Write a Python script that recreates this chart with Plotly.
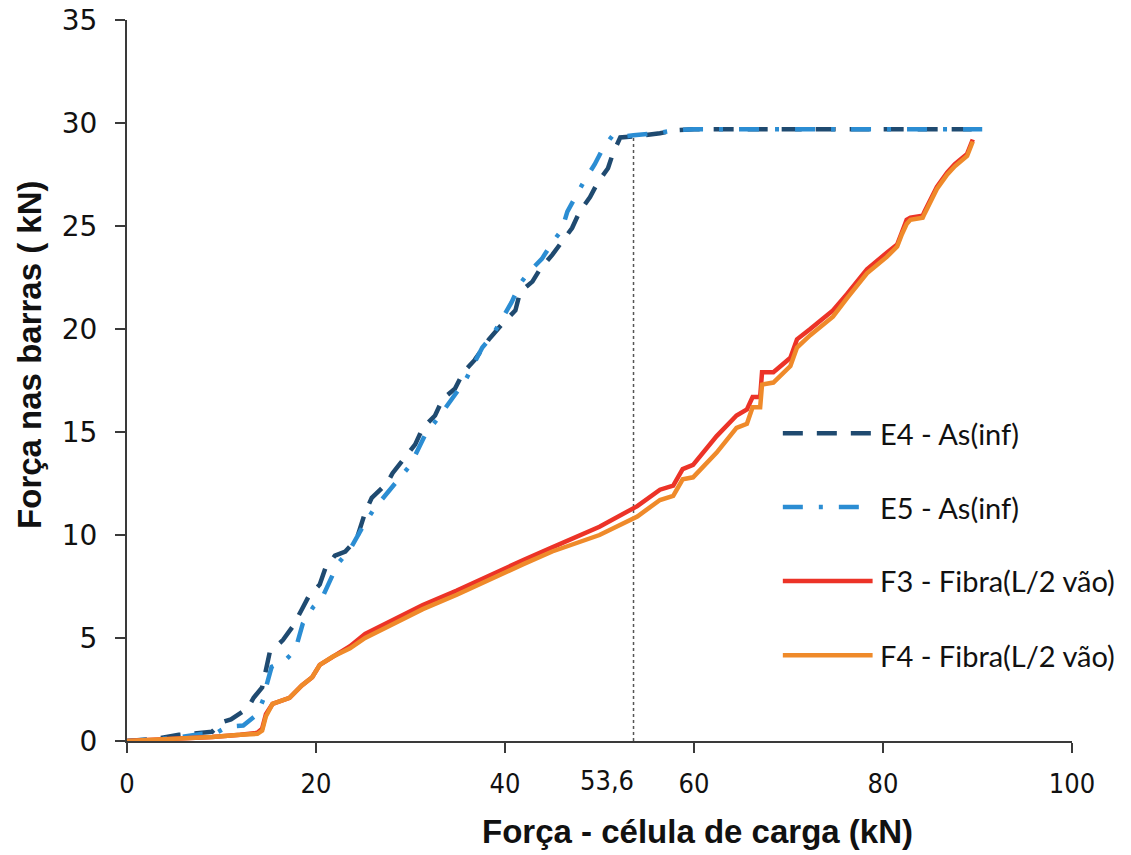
import plotly.graph_objects as go

# ---------------- data ----------------
e4_x = [0, 3, 5.5, 7.7, 9, 10, 11, 12.8, 13.4, 14.3, 14.8, 15.1, 16.5, 17.6, 18.4, 19.2, 20.4,
        21, 22, 23.1, 24.3, 25.2, 25.9, 27.5, 28.1, 29.4, 30.5, 31.3, 32.6, 33.4, 34.7, 35.6,
        36.8, 38.3, 39.8, 41.1, 41.6, 42.9, 43.7, 45, 46, 47.1, 47.9, 49, 49.8, 50.9, 51.4,
        52.2, 53.6, 56.4, 58, 60, 70, 80, 90.5]
e4_y = [0, 0.1, 0.3, 0.4, 0.45, 0.9, 1.05, 1.6, 2.1, 2.6, 3.6, 4.3, 4.9, 5.6, 6.3, 7.0, 7.6,
        8.4, 9.0, 9.2, 9.8, 11.1, 11.8, 12.5, 13.0, 13.8, 14.4, 15.2, 15.8, 16.6, 17.1, 17.9,
        18.5, 19.5, 20.3, 20.9, 21.8, 22.3, 22.9, 23.6, 24.2, 24.9, 25.7, 26.4, 27.1, 27.8, 28.5,
        29.3, 29.35, 29.5, 29.65, 29.7, 29.7, 29.7, 29.7]

e5_x = [0, 5, 8, 9.5, 10.6, 12.3, 13.8, 14.4, 14.7, 15.3, 16.7, 17.8, 18.6, 19.7, 20.6, 22.3,
        23.6, 25.2, 26.2, 28.9, 30, 31.7, 32.8, 35, 35.8, 37.6, 38.7, 40.7, 41.6, 42.6, 43.9,
        45, 46, 46.6, 47.4, 48.4, 49.5, 50.4, 51.4, 52.5, 53.6, 56, 58, 60, 70, 80, 90.5]
e5_y = [0, 0.15, 0.35, 0.4, 0.7, 0.75, 1.3, 2.0, 2.6, 3.6, 3.9, 4.4, 5.7, 6.5, 6.9, 8.6,
        9.3, 10.6, 11.3, 12.8, 13.4, 15.0, 15.6, 17.0, 17.5, 19.1, 19.7, 21.3, 22.2, 22.8, 23.4,
        24.2, 24.8, 25.7, 26.4, 27.2, 28.0, 28.8, 29.4, 29.35, 29.4, 29.5, 29.65, 29.7, 29.7, 29.7, 29.7]

f_x = [0, 5, 9, 12, 13.8, 14.3, 14.7, 15.4, 17.2, 18.5, 19.6, 20.4, 21.8, 23.6, 25.2, 27.8,
       31.3, 34.9, 37.7, 39.5, 42, 45, 48, 50, 54, 56.4, 57.8, 58.8, 59.9, 62.4, 64.5, 65.6,
       66.2, 67, 67.2, 68.4, 70.2, 70.9, 72.3, 74.7, 76.2, 78.3, 80.4, 81.5, 82, 82.5, 82.9,
       84.2, 84.4, 85, 85.7, 86.8, 87.6, 88.9, 89.5]
f3_y = [0, 0.1, 0.2, 0.3, 0.4, 0.6, 1.3, 1.8, 2.1, 2.7, 3.1, 3.7, 4.1, 4.6, 5.2, 5.8,
        6.6, 7.3, 7.9, 8.3, 8.8, 9.4, 10.0, 10.4, 11.4, 12.2, 12.4, 13.2, 13.4, 14.8, 15.8, 16.1,
        16.7, 16.7, 17.9, 17.9, 18.6, 19.5, 20.0, 20.9, 21.7, 22.9, 23.7, 24.1, 24.7, 25.3, 25.4,
        25.5, 25.7, 26.3, 26.9, 27.6, 28.0, 28.5, 29.2]
f4_y = [0, 0.1, 0.2, 0.3, 0.35, 0.5, 1.2, 1.8, 2.1, 2.7, 3.1, 3.7, 4.1, 4.5, 5.0, 5.6,
        6.4, 7.1, 7.7, 8.1, 8.6, 9.2, 9.7, 10.0, 10.9, 11.7, 11.9, 12.7, 12.8, 14.0, 15.2, 15.4,
        16.2, 16.2, 17.3, 17.4, 18.2, 19.1, 19.7, 20.6, 21.5, 22.7, 23.5, 24.0, 24.6, 25.1, 25.3,
        25.4, 25.6, 26.2, 26.8, 27.5, 27.9, 28.4, 29.1]

series_names = ["E4 - As(inf)", "E5 - As(inf)", "F3 - Fibra(L/2 vão)", "F4 - Fibra(L/2 vão)"]
x_ticks = [0, 20, 40, 60, 80, 100]
y_ticks = [0, 5, 10, 15, 20, 25, 30, 35]
x_mark = 53.6
x_mark_label = "53,6"
x_mark_top = 29.35
x_title = "Força - célula de carga (kN)"
y_title = "Força nas barras ( kN)"

# ---------------- styles ----------------
colors = ["#1F4A70", "#2B8DD3", "#EC3327", "#EF8A2A"]
dashes = ["20px,14px", "20px,16px,4px,16px", "solid", "solid"]
LW = 4.5
AXC = "#3a3a3a"
TXT = "#111111"
NARROW = "DejaVu Sans Condensed, Liberation Sans Narrow, sans-serif"

fig = go.Figure()
fig.add_shape(type="line", xref="x", yref="y", x0=x_mark, x1=x_mark, y0=0, y1=x_mark_top,
              line=dict(color="#555555", width=1.5, dash="dot"), layer="below")

data = [(e4_x, e4_y), (e5_x, e5_y), (f_x, f3_y), (f_x, f4_y)]
for (xs, ys), name, c, d in zip(data, series_names, colors, dashes):
    fig.add_trace(go.Scatter(x=xs, y=ys, mode="lines", name=name,
                             line=dict(color=c, width=LW, dash=d), showlegend=False))

# manual legend (to match long line samples)
leg_y = [0.427, 0.3245, 0.222, 0.119]
for name, c, d, yy in zip(series_names, colors, dashes, leg_y):
    fig.add_shape(type="line", xref="paper", yref="paper", x0=0.694, x1=0.789, y0=yy, y1=yy,
                  line=dict(color=c, width=LW, dash=d))
    fig.add_annotation(xref="paper", yref="paper", x=0.795, y=yy, text=name, showarrow=False,
                       xanchor="left", yanchor="middle",
                       font=dict(family="Lato, Carlito, sans-serif", size=29, color=TXT))

fig.add_annotation(xref="x", yref="paper", x=x_mark, y=0, yshift=-22, xshift=2, text=x_mark_label,
                   showarrow=False, xanchor="right", yanchor="top",
                   font=dict(family=NARROW, size=27, color=TXT))

# axis titles
fig.add_annotation(xref="paper", yref="paper", x=0.604, y=-0.126, text=x_title, showarrow=False,
                   xanchor="center", yanchor="middle",
                   font=dict(family="Liberation Sans, Arial, sans-serif", size=33, color=TXT,
                             weight="bold"))
fig.add_annotation(xref="paper", yref="paper", x=-0.103, y=0.535, text=y_title, showarrow=False,
                   xanchor="center", yanchor="middle", textangle=-90,
                   font=dict(family="Liberation Sans, Arial, sans-serif", size=33, color=TXT,
                             weight="bold"))

fig.update_layout(
    width=1131, height=855,
    margin=dict(l=127, r=59, t=20, b=114, autoexpand=False),
    paper_bgcolor="white", plot_bgcolor="white",
    xaxis=dict(range=[0, 100], tickvals=x_ticks, ticktext=[str(v) for v in x_ticks],
               automargin=False, ticklabeloverflow="allow",
               showgrid=False, zeroline=False, showline=True, linecolor=AXC, linewidth=2,
               ticks="outside", ticklen=10, tickwidth=2, tickcolor=AXC, ticklabelstandoff=8,
               tickfont=dict(family=NARROW, size=27, color=TXT)),
    yaxis=dict(range=[0, 35], tickvals=y_ticks, showgrid=False, zeroline=False, showline=True,
               automargin=False, ticklabeloverflow="allow",
               linecolor=AXC, linewidth=2, ticks="outside", ticklen=10, tickwidth=2,
               tickcolor=AXC, ticklabelstandoff=12,
               tickfont=dict(family="DejaVu Sans, Verdana, sans-serif", size=28, color=TXT)),
)

fig.write_html("out.html", config={"displayModeBar": False},
               post_script="document.body.style.margin='0';")
